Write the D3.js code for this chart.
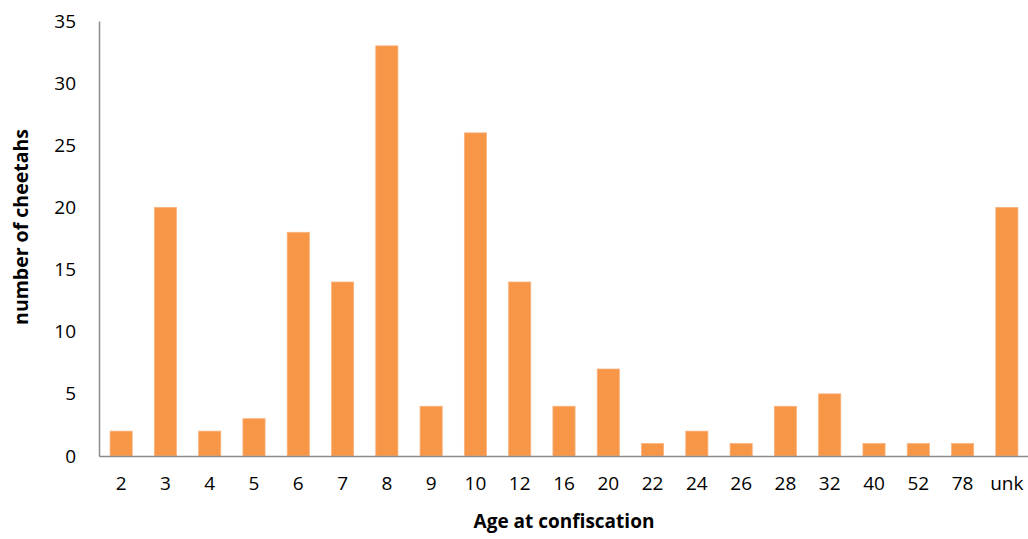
<!DOCTYPE html>
<html><head><meta charset="utf-8">
<script src="https://cdn.jsdelivr.net/npm/d3@7"></script>
<style>body{margin:0;background:#fff}svg{display:block}text{font-family:"Open Sans",sans-serif}</style>
</head><body>
<svg id="c" width="1028" height="539"></svg>
<script>
const categories = ["2","3","4","5","6","7","8","9","10","12","16","20","22","24","26","28","32","40","52","78","unk"];
const counts = [2,20,2,3,18,14,33,4,26,14,4,7,1,2,1,4,5,1,1,1,20];
const yTicks = [0,5,10,15,20,25,30,35];

(function(){
const svg = d3.select("#c");
const mLeft = 99, mRight = 1029, mTop = 21, mBottom = 456;
const x = d3.scaleBand().domain(categories).range([mLeft, mRight]).paddingInner(0.5).paddingOuter(0.25);
const y = d3.scaleLinear().domain([0,35]).range([mBottom, mTop]);

svg.append("g").selectAll("rect").data(categories).join("rect")
  .attr("x", d => x(d)).attr("width", x.bandwidth())
  .attr("y", (d,i) => y(counts[i])).attr("height", (d,i) => y(0) - y(counts[i]))
  .attr("fill", "#F79646").attr("stroke", "#FAB27E").attr("stroke-width", 0.8);

const ya = svg.append("g").attr("transform", `translate(${mLeft},0)`)
  .call(d3.axisLeft(y).tickValues(yTicks).tickSize(0).tickPadding(23));
ya.select(".domain").attr("stroke", "#8c8c8c").attr("stroke-width", 1.5);
ya.selectAll("text").attr("font-size", 19).attr("fill", "#000").attr("font-family", "Open Sans");

const xa = svg.append("g").attr("transform", `translate(0,${mBottom})`)
  .call(d3.axisBottom(x).tickSize(0).tickPadding(21));
xa.select(".domain").attr("stroke", "#8c8c8c").attr("stroke-width", 1.5);
xa.selectAll("text").attr("font-size", 19).attr("fill", "#000").attr("font-family", "Open Sans");

svg.append("text").attr("x", 564).attr("y", 528).attr("text-anchor", "middle")
  .attr("font-size", 19).attr("font-weight", "bold").text("Age at confiscation");
svg.append("text").attr("transform", "translate(28,227) rotate(-90)").attr("text-anchor", "middle")
  .attr("font-size", 19.5).attr("font-weight", "bold").text("number of cheetahs");
})();
</script>
</body></html>
